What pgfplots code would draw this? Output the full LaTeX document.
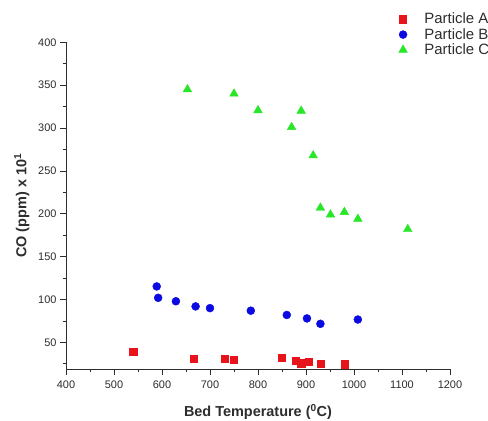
\documentclass[border=0pt]{standalone}
\usepackage{pgfplots}
\pgfplotsset{compat=1.18}
\usepackage{fontspec}
\setmainfont{Liberation Sans}
\definecolor{pA}{RGB}{232,20,28}
\definecolor{pB}{RGB}{10,10,225}
\definecolor{pC}{RGB}{40,230,40}
\definecolor{ax}{RGB}{45,45,45}
\begin{document}
\begin{tikzpicture}
\useasboundingbox (0bp,0bp) rectangle (488bp,421bp);
\begin{axis}[
  at={(66bp,52bp)}, anchor=south west,
  scale only axis, width=384bp, height=326.7bp,
  xmin=400, xmax=1200, ymin=19, ymax=400,
  axis lines=left, axis line style={ax, line width=0.9bp, -},
  xtick={400,500,...,1200}, ytick={50,100,...,400},
  minor xtick={450,550,...,1150}, minor ytick={25,75,...,375},
  tick align=outside, tick style={ax, line width=0.8bp},
  major tick length=6bp, minor tick length=3.5bp,
  /pgf/number format/assume math mode=true,
  /pgf/number format/1000 sep={},
  tick label style={font=\fontsize{11}{12}\selectfont, text=ax},
  xticklabel style={yshift=-2bp},
  xlabel={\textbf{Bed Temperature (\textsuperscript{0}C)}},
  ylabel={\textbf{CO (ppm) x 10\textsuperscript{1}}},
  label style={font=\fontsize{14.5}{16}\selectfont, text=ax},
  xlabel style={yshift=-9bp},
  ylabel style={yshift=2bp},
  legend style={draw=none, fill=none, inner sep=0pt, at={(0.866,1.093)}, anchor=north west,
    font=\fontsize{15}{15}\selectfont, text=ax, row sep=1bp,
    nodes={inner ysep=1bp},
    /tikz/every odd column/.append style={column sep=15bp}},
  legend cell align=left,
]
\addplot[only marks, mark=square*, mark size=3.6bp, color=pA] coordinates {
(540,39.4) (666,31) (730,31) (750,29.6) (850,32) (879,28.5) (890,25.7) (905,27.6) (930,25) (980,24.5)
};
\addlegendentry{Particle A}
\addplot[only marks, mark=*, mark size=4bp, color=pB] coordinates {
(589,115.3) (592,102) (629,98) (670,92) (700,90) (785,87) (860,82) (902,78) (930,71.7) (1008,76.7)
};
\addlegendentry{Particle B}
\addplot[only marks, mark=triangle*, mark size=5bp, color=pC] coordinates {
(653,345) (750,340) (800,320.6) (870,301) (890,320) (915,268) (930,207) (951,199) (980,202) (1008,194) (1112,182)
};
\addlegendentry{Particle C}
\end{axis}
\end{tikzpicture}
\end{document}
